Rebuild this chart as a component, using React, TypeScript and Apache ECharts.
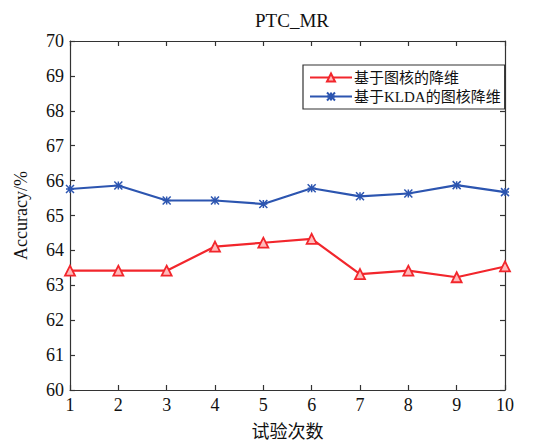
import React, { useEffect, useRef } from "react";
import * as echarts from "echarts";

const trials = [1, 2, 3, 4, 5, 6, 7, 8, 9, 10];
const graphKernel = [63.42, 63.42, 63.42, 64.11, 64.22, 64.33, 63.32, 63.42, 63.23, 63.54];
const kldaGraphKernel = [65.76, 65.86, 65.43, 65.43, 65.33, 65.78, 65.55, 65.63, 65.87, 65.67];
const seriesNames = ["基于图核的降维", "基于KLDA的图核降维"];

const FONT = "'Liberation Serif', 'Times New Roman', 'Noto Sans CJK SC', serif";
const RED = "#f2262c";
const BLUE = "#2c55b0";
const XMARK = "path://M0,0 L10,10 M10,0 L0,10 M5,0 L5,10 M0,5 L10,5";

export default function App() {
  const ref = useRef<HTMLDivElement>(null);
  useEffect(() => {
    document.body.style.margin = "0";
    if (!ref.current) return;
    const chart = echarts.init(ref.current, null, { renderer: "svg" });
    const axisLine = { show: true, lineStyle: { color: "#333", width: 1.2 } };
    const axisTick = { show: true, inside: true, length: 5, lineStyle: { color: "#333", width: 1.2 } };
    chart.setOption({
      animation: false,
      backgroundColor: "#fff",
      title: {
        text: "PTC_MR",
        left: 287,
        top: 6,
        textAlign: "center",
        textStyle: { fontFamily: FONT, fontSize: 19, fontWeight: "normal", color: "#111" },
      },
      grid: { left: 70, right: 37, top: 41, bottom: 52 },
      legend: {
        left: 303,
        top: 65,
        orient: "vertical",
        itemWidth: 42,
        itemHeight: 10,
        itemGap: 4,
        padding: [5, 4, 5, 6],
        borderColor: "#333",
        borderWidth: 1.2,
        backgroundColor: "#fff",
        textStyle: { fontFamily: FONT, fontSize: 15, color: "#111", padding: [0, 0, 0, -3] },
        data: seriesNames,
      },
      xAxis: [
        {
          type: "value",
          min: 1,
          max: 10,
          interval: 1,
          name: "试验次数",
          nameLocation: "middle",
          nameGap: 33,
          nameTextStyle: { fontFamily: FONT, fontSize: 18, color: "#111" },
          axisLine,
          axisTick,
          splitLine: { show: false },
          axisLabel: { fontFamily: FONT, fontSize: 18, color: "#111", margin: 6 },
        },
        {
          type: "value",
          position: "top",
          min: 1,
          max: 10,
          interval: 1,
          axisLine,
          axisTick,
          splitLine: { show: false },
          axisLabel: { show: false },
        },
      ],
      yAxis: [
        {
          type: "value",
          min: 60,
          max: 70,
          interval: 1,
          name: "Accuracy/%",
          nameLocation: "middle",
          nameGap: 40,
          nameTextStyle: { fontFamily: FONT, fontSize: 18, color: "#111" },
          axisLine,
          axisTick,
          splitLine: { show: false },
          axisLabel: { fontFamily: FONT, fontSize: 18, color: "#111", margin: 6 },
        },
        {
          type: "value",
          position: "right",
          min: 60,
          max: 70,
          interval: 1,
          axisLine,
          axisTick,
          splitLine: { show: false },
          axisLabel: { show: false },
        },
      ],
      series: [
        {
          name: seriesNames[0],
          type: "line",
          data: trials.map((t, i) => [t, graphKernel[i]]),
          symbol: "triangle",
          symbolSize: 10,
          showAllSymbol: true,
          lineStyle: { color: RED, width: 2.2 },
          itemStyle: { color: "#fbb", borderColor: RED, borderWidth: 1.8 },
        },
        {
          name: seriesNames[1],
          type: "line",
          data: trials.map((t, i) => [t, kldaGraphKernel[i]]),
          symbol: XMARK,
          symbolSize: 8,
          showAllSymbol: true,
          lineStyle: { color: BLUE, width: 2.2 },
          itemStyle: { color: BLUE, borderColor: BLUE, borderWidth: 1.5 },
        },
      ],
    });
    return () => chart.dispose();
  }, []);
  return <div ref={ref} style={{ width: 542, height: 446 }} />;
}
